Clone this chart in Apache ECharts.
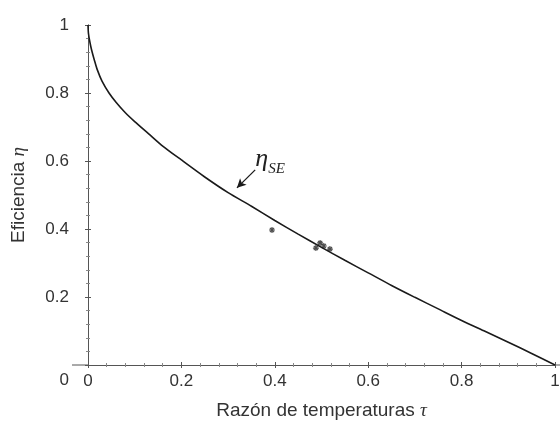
<!DOCTYPE html>
<html>
<head>
<meta charset="utf-8">
<script src="https://cdn.jsdelivr.net/npm/echarts@6/dist/echarts.min.js"></script>
<style>
  html, body { margin: 0; padding: 0; background: #fff; }
  #chart { width: 560px; height: 422px; }
</style>
</head>
<body>
<div id="chart"></div>
<script>
// eta_SE curve (tau, eta)
const curveTau = [0, 0.001, 0.004, 0.008, 0.014, 0.02, 0.03, 0.045, 0.06, 0.08, 0.1, 0.13, 0.16, 0.2, 0.25, 0.3, 0.35, 0.4, 0.45, 0.5, 0.55, 0.6, 0.65, 0.7, 0.75, 0.8, 0.85, 0.9, 0.95, 1.0];
const curveEta = [1.0, 0.975, 0.95, 0.925, 0.895, 0.868, 0.835, 0.8, 0.773, 0.742, 0.716, 0.68, 0.644, 0.603, 0.553, 0.507, 0.467, 0.425, 0.385, 0.346, 0.308, 0.271, 0.234, 0.199, 0.165, 0.131, 0.099, 0.067, 0.034, 0];

// measured points (asterisks)
const obsTau = [0.394, 0.488, 0.497, 0.505, 0.518];
const obsEta = [0.397, 0.344, 0.359, 0.35, 0.341];

// annotation: label anchor and arrow (tail -> head)
const labelAt = [0.39, 0.605];
const arrowFrom = [0.358, 0.574];
const arrowTo = [0.319, 0.521];

const tickFont = { fontFamily: 'Liberation Sans, Arial, sans-serif', fontSize: 17, color: '#333' };
const AXIS_COLOR = '#555';

const curve = curveTau.map((t, i) => [t, curveEta[i]]);
const obs = obsTau.map((t, i) => [t, obsEta[i]]);

const STAR = 'path://M5,0 L5,10 M0,5 L10,5 M1.5,1.5 L8.5,8.5 M8.5,1.5 L1.5,8.5';

const chart = echarts.init(document.getElementById('chart'), null, { renderer: 'canvas' });

const baseY = {
  type: 'value', min: 0, max: 1, interval: 0.2,
  splitLine: { show: false },
  axisLine: { show: true, onZero: false, lineStyle: { color: AXIS_COLOR, width: 1 } },
};
const baseX = {
  type: 'value', min: 0, max: 1, interval: 0.2,
  splitLine: { show: false },
  axisLine: { show: true, onZero: false, lineStyle: { color: AXIS_COLOR, width: 1 } },
};

chart.setOption({
  animation: false,
  backgroundColor: '#fff',
  grid: { left: 88, right: 5, top: 25, bottom: 57, containLabel: false, outerBoundsMode: 'none' },
  xAxis: [
    Object.assign({}, baseX, {
      name: '{a|Razón de temperaturas }{g|τ}',
      nameLocation: 'middle', nameGap: 36,
      nameTextStyle: {
        rich: {
          a: { fontFamily: 'Liberation Sans, Arial, sans-serif', fontSize: 19, color: '#333' },
          g: { fontFamily: 'Liberation Serif, serif', fontStyle: 'italic', fontSize: 19, color: '#333' }
        }
      },
      axisTick: { show: true, length: 3, lineStyle: { color: AXIS_COLOR } },
      minorTick: { show: true, splitNumber: 5, length: 2, lineStyle: { color: '#888' } },
      axisLabel: Object.assign({ margin: 8 }, tickFont)
    }),
    Object.assign({}, baseX, {
      axisTick: { show: true, inside: true, length: 3, lineStyle: { color: AXIS_COLOR } },
      minorTick: { show: true, splitNumber: 5, length: 2, lineStyle: { color: '#888' } },
      axisLabel: { show: false },
      position: 'bottom'
    })
  ],
  yAxis: [
    Object.assign({}, baseY, {
      name: '{a|Eficiencia }{g|η}',
      nameLocation: 'middle', nameGap: 60, nameRotate: 90,
      nameTextStyle: {
        rich: {
          a: { fontFamily: 'Liberation Sans, Arial, sans-serif', fontSize: 19, color: '#333' },
          g: { fontFamily: 'Liberation Serif, serif', fontStyle: 'italic', fontSize: 19, color: '#333' }
        }
      },
      axisTick: { show: true, length: 3, lineStyle: { color: AXIS_COLOR } },
      minorTick: { show: true, splitNumber: 5, length: 2, lineStyle: { color: '#888' } },
      axisLabel: Object.assign({
        margin: 19,
        formatter: (v) => (v === 0 ? '{z|0}' : String(v)),
        rich: { z: Object.assign({ padding: [30, 0, 0, 0] }, tickFont) }
      }, tickFont)
    }),
    Object.assign({}, baseY, {
      position: 'left',
      axisTick: { show: true, inside: true, length: 3, lineStyle: { color: AXIS_COLOR } },
      minorTick: { show: true, splitNumber: 5, length: 2, lineStyle: { color: '#888' } },
      axisLabel: { show: false }
    })
  ],
  graphic: [
    { type: 'line', shape: { x1: 72, y1: 365, x2: 88, y2: 365 }, style: { stroke: AXIS_COLOR, lineWidth: 1 } },
    { type: 'line', shape: { x1: 555, y1: 365, x2: 560, y2: 365 }, style: { stroke: AXIS_COLOR, lineWidth: 1 } }
  ],
  series: [
    {
      type: 'line',
      data: curve,
      smooth: 0.25,
      showSymbol: false,
      lineStyle: { color: '#1a1a1a', width: 1.6 },
      markLine: {
        silent: true,
        symbol: ['none', 'arrow'],
        symbolSize: [7, 9],
        label: { show: false },
        lineStyle: { color: '#1a1a1a', width: 1.3, type: 'solid' },
        data: [[{ coord: arrowFrom }, { coord: arrowTo }]]
      },
      markPoint: {
        silent: true,
        symbol: 'circle',
        symbolSize: 1,
        itemStyle: { color: 'transparent' },
        label: {
          show: true,
          position: 'inside',
          formatter: '{e|η}{s|SE}',
          rich: {
            e: { fontFamily: 'Liberation Serif, serif', fontStyle: 'italic', fontSize: 26, color: '#222', verticalAlign: 'bottom' },
            s: { fontFamily: 'Liberation Serif, serif', fontStyle: 'italic', fontSize: 15, color: '#222', verticalAlign: 'bottom', padding: [0, 0, -4, 0] }
          }
        },
        data: [{ coord: labelAt }]
      }
    },
    {
      type: 'scatter',
      data: obs,
      symbol: STAR,
      symbolSize: 6,
      itemStyle: { color: 'transparent', borderColor: '#222', borderWidth: 1.2 }
    }
  ]
});
</script>
</body>
</html>
